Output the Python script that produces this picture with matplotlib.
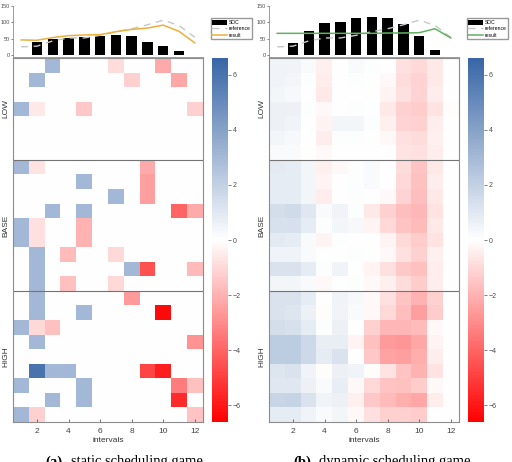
import numpy as np
import matplotlib

matplotlib.use("Agg")

import matplotlib.pyplot as plt
from matplotlib.colors import LinearSegmentedColormap, Normalize

plt.rcParams["font.family"] = ["Liberation Sans", "DejaVu Sans"]

intervals = list(range(1, 13))
groups = ["LOW", "BASE", "HIGH"]
group_rows = [7, 9, 9]

soc_static = [0, 40, 48, 51, 55, 57, 61, 58, 40, 27, 12, 0]
soc_dynamic = [0, 37, 74, 96, 99, 112, 117, 112, 93, 58, 15, 0]
reference = [25, 27, 43, 52, 52, 60, 71, 80, 92, 106, 90, 54]
result_static = [46, 45, 53, 59, 61, 62, 71, 78, 82, 91, 72, 37]
result_dynamic = [66, 66, 66, 66, 66, 66, 66, 67, 67, 68, 80, 52]

# static game: deviations per player (rows) and interval (cols)
static_low = [
    [0, 0, 3, 0, 0, 0, -0.9, 0, 0, -2.2, 0, 0],
    [0, 3, 0, 0, 0, 0, 0, -1.2, 0, 0, -2.3, 0],
    [0, 0, 0, 0, 0, 0, 0, 0, 0, 0, 0, 0],
    [3, -0.6, 0, 0, -1.4, 0, 0, 0, 0, 0, 0, -1.2],
    [0, 0, 0, 0, 0, 0, 0, 0, 0, 0, 0, 0],
    [0, 0, 0, 0, 0, 0, 0, 0, 0, 0, 0, 0],
    [0, 0, 0, 0, 0, 0, 0, 0, 0, 0, 0, 0],
]
static_base = [
    [3, -0.7, 0, 0, 0, 0, 0, 0, -2.2, 0, 0, 0],
    [0, 0, 0, 0, 3, 0, 0, 0, -2.5, 0, 0, 0],
    [0, 0, 0, 0, 0, 0, 3, 0, -2.5, 0, 0, 0],
    [0, 0, 3, 0, 3, 0, 0, 0, 0, 0, -4.0, -2.2],
    [3, -0.8, 0, 0, -2.0, 0, 0, 0, 0, 0, 0, 0],
    [3, -0.8, 0, 0, -2.0, 0, 0, 0, 0, 0, 0, 0],
    [0, 3, 0, -1.8, 0, 0, -1.0, 0, 0, 0, 0, 0],
    [0, 3, 0, 0, 0, 0, 0, 3, -4.5, 0, 0, -1.8],
    [0, 3, 0, -1.6, 0, 0, -1.0, 0, 0, 0, 0, 0],
]
static_high = [
    [0, 3, 0, 0, 0, 0, 0, -2.6, 0, 0, 0, 0],
    [0, 3, 0, 0, 3, 0, 0, 0, 0, -6.3, 0, 0],
    [3, -1.0, -1.6, 0, 0, 0, 0, 0, 0, 0, 0, 0],
    [0, 3, 0, 0, 0, 0, 0, 0, 0, 0, 0, -2.8],
    [0, 0, 0, 0, 0, 0, 0, 0, 0, 0, 0, 0],
    [0, 6.0, 3, 3, 0, 0, 0, 0, -4.8, -5.8, 0, 0],
    [3, 0, 0, 0, 3, 0, 0, 0, 0, 0, -3.4, -1.6],
    [0, 0, 3, 0, 3, 0, 0, 0, 0, 0, -5.5, 0],
    [3, -1.2, 0, 0, 0, 0, 0, 0, 0, 0, 0, -1.5],
]

# dynamic game
dynamic_low = [
    [0.5, 0.5, 0.2, -0.4, 0, 0.2, 0.1, 0, -0.8, -1.0, -0.6, 0],
    [0.5, 0.4, 0.1, -0.5, 0, 0.1, 0, -0.2, -0.9, -1.1, -0.6, 0],
    [0.4, 0.3, 0, -0.6, 0, 0, 0, -0.3, -0.8, -1.1, -0.5, 0],
    [0.6, 0.6, 0.1, -0.2, 0, 0.1, 0, -0.6, -1.2, -1.3, -0.7, -0.1],
    [0.6, 0.5, 0, -0.3, 0.4, 0.4, 0.1, -0.4, -1.1, -1.2, -0.5, 0],
    [0.4, 0.3, 0, -0.5, 0.1, 0.1, 0, -0.2, -0.8, -0.9, -0.4, 0],
    [0.2, 0.2, 0, -0.2, 0, 0, 0, 0, -0.7, -0.8, -0.5, 0],
]
dynamic_base = [
    [0.9, 0.8, 0.4, -0.4, -0.2, 0.1, 0.2, 0, -0.9, -1.5, -0.6, 0],
    [0.8, 0.8, 0.4, -0.3, 0, 0.1, 0.2, 0, -1.0, -1.6, -0.5, 0],
    [0.8, 0.8, 0.4, -0.5, 0, 0.1, 0, -0.2, -1.1, -1.7, -0.6, 0],
    [1.4, 1.5, 1.0, 0.2, 0.5, 0.1, -0.6, -1.2, -1.7, -1.9, -0.7, 0],
    [1.3, 1.3, 0.8, 0.1, 0.4, 0.3, -0.3, -1.0, -1.5, -1.8, -0.6, 0],
    [0.9, 0.8, 0.2, -0.3, 0.1, 0, 0, -0.3, -1.0, -1.3, -0.7, 0],
    [0.5, 0.5, 0.2, 0, 0, 0.1, 0, -0.2, -0.8, -1.2, -0.4, 0],
    [1.2, 1.2, 0.8, 0.1, 0.5, 0, -0.3, -0.8, -1.4, -1.6, -0.5, 0],
    [0.4, 0.4, 0.2, -0.2, 0, 0.1, -0.2, -0.4, -0.9, -1.3, -0.5, 0],
]
dynamic_high = [
    [1.2, 1.2, 0.8, 0, 0.5, 0.3, -0.2, -0.8, -1.5, -2.0, -1.2, 0],
    [1.2, 1.1, 0.6, -0.1, 0.5, 0.2, -0.2, -1.0, -1.7, -2.5, -1.3, 0],
    [1.4, 1.3, 0.8, 0.1, 0.6, 0, -1.2, -1.9, -1.9, -1.8, -0.2, 0],
    [2.2, 2.2, 1.6, 0.7, 0.7, -0.3, -1.6, -2.6, -2.7, -2.3, -0.3, 0],
    [2.2, 2.2, 1.6, 0.8, 1.2, 0, -1.4, -2.4, -2.5, -2.1, -0.5, 0],
    [1.1, 1.2, 0.5, -0.1, 0.6, 0.5, -0.1, -0.7, -1.5, -2.0, -0.7, 0],
    [1.0, 1.0, 0.6, 0.2, 0.7, -0.2, -1.0, -1.5, -1.6, -1.3, -0.2, 0],
    [1.8, 1.9, 1.2, 0.5, 0.6, -0.4, -1.4, -1.8, -2.1, -2.3, -0.5, 0],
    [0.8, 0.8, 0.5, 0.2, 0.4, -0.2, -0.8, -1.2, -1.2, -1.3, 0, 0],
]

cbar_ticks = [-6, -4, -2, 0, 2, 4, 6]
x_ticks = [2, 4, 6, 8, 10, 12]

cmap = LinearSegmentedColormap.from_list(
    "rwb", [(1.0, 0.0, 0.0), (1.0, 1.0, 1.0), (0.22, 0.40, 0.65)]
)
norm = Normalize(vmin=-6.6, vmax=6.6)

fig = plt.figure(figsize=(5.12, 4.62), dpi=100)
W, H = 512.0, 462.0


def box(x0, x1, y0, y1):
    # pixel box -> figure fraction rect
    return [x0 / W, 1 - y1 / H, (x1 - x0) / W, (y1 - y0) / H]


def panel(x0, soc, result, res_color, mats, caption_bold, caption_rest, cap_x):
    x1 = x0 + 189.4
    # top bar chart
    ax_t = fig.add_axes(box(x0, x1, 5.7, 56.7))
    bars = ax_t.bar(intervals, soc, width=0.66, color="black", label="SOC")
    ref_line, = ax_t.plot(intervals, reference, color="0.78", ls=(0, (5, 4)),
                          lw=1.0, label="reference")
    res_line, = ax_t.plot(intervals, result, color=res_color, lw=1.1,
                          label="result")
    ax_t.set_xlim(0.5, 12.5)
    ax_t.set_ylim(-5, 150)
    ax_t.set_yticks([0, 50, 100, 150])
    ax_t.set_xticks([])
    ax_t.tick_params(axis="y", labelsize=4, length=1.5, pad=1,
                     colors="0.3", width=0.5)
    for s in ["top", "right"]:
        ax_t.spines[s].set_visible(False)
    for s in ["left", "bottom"]:
        ax_t.spines[s].set_color("0.55")
        ax_t.spines[s].set_linewidth(0.6)
    ax_t.legend(handles=[bars, ref_line, res_line],
                loc="upper left", bbox_to_anchor=((x1 + 8.0) / W, 1 - 18 / H),
                bbox_transform=fig.transFigure, fontsize=3.6, frameon=True,
                fancybox=False, edgecolor="0.6", framealpha=1,
                handlelength=2.9, handleheight=1.1, borderpad=0.35,
                labelspacing=0.25, handletextpad=0.35, borderaxespad=0)

    # heatmap
    ax = fig.add_axes(box(x0, x1, 58, 422))
    data = np.array(mats[0] + mats[1] + mats[2], dtype=float)
    im = ax.imshow(data, cmap=cmap, norm=norm, aspect="auto",
                   interpolation="nearest",
                   extent=(0.5, 12.5, data.shape[0] - 0.5, -0.5))
    edges = np.cumsum(group_rows)
    for e in edges[:-1]:
        ax.axhline(e - 0.5, color="0.45", lw=0.8)
    centers = [e - n / 2 - 0.5 for e, n in zip(edges, group_rows)]
    ax.set_yticks(centers)
    ax.set_yticklabels(groups, rotation=90, va="center", fontsize=6,
                       color="0.2")
    ax.tick_params(axis="y", length=0, pad=3)
    ax.set_xticks(x_ticks)
    ax.tick_params(axis="x", labelsize=6, length=2, direction="in",
                   colors="0.25", pad=4, width=0.5)
    ax.set_xlabel("intervals", fontsize=6, color="0.2", labelpad=2)
    for s in ax.spines.values():
        s.set_color("0.55")
        s.set_linewidth(0.8)

    cax = fig.add_axes(box(x1 + 9.5, x1 + 25.5, 58, 422))
    cb = fig.colorbar(im, cax=cax, ticks=cbar_ticks)
    cb.outline.set_visible(False)
    cax.tick_params(labelsize=5, length=2, width=0.5, colors="0.3", pad=1.5)

    # caption, mostly below the image edge as in the source
    fig.text(cap_x, 1 - 465.5 / H, caption_bold, fontsize=10.5,
             family="Liberation Serif", weight="bold", ha="left",
             va="baseline")
    fig.text(cap_x + 26 / W, 1 - 465.5 / H, caption_rest, fontsize=10.5,
             family="Liberation Serif", ha="left", va="baseline")


panel(13.3, soc_static, result_static, "#edae3c",
      [static_low, static_base, static_high], "(a)", "static scheduling game",
      45 / W)
panel(269.3, soc_dynamic, result_dynamic, "#62b062",
      [dynamic_low, dynamic_base, dynamic_high], "(b)",
      "dynamic scheduling game", 293 / W)

fig.savefig("out.png", dpi=100)
